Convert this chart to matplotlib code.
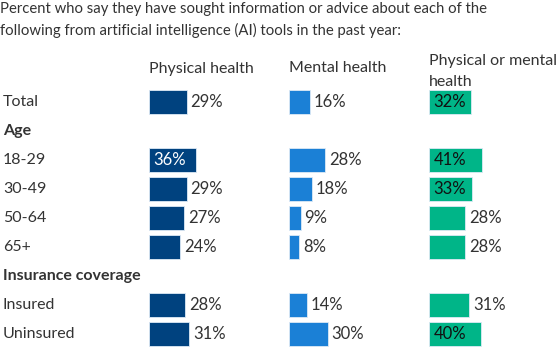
import matplotlib.pyplot as plt
import matplotlib.transforms as mtransforms

plt.rcParams['font.family'] = ['Lato', 'DejaVu Sans']

# rows (None = no bar, header row)
row_labels = ['Total', 'Age', '18-29', '30-49', '50-64', '65+',
              'Insurance coverage', 'Insured', 'Uninsured']
header_rows = ['Age', 'Insurance coverage']

columns = ['Physical health', 'Mental health', 'Physical or mental\nhealth']
physical = [29, None, 36, 29, 27, 24, None, 28, 31]
mental = [16, None, 28, 18, 9, 8, None, 14, 30]
either = [32, None, 41, 33, 28, 28, None, 31, 40]

# which labels sit inside the bar
physical_inside = [False, None, True, False, False, False, None, False, False]
mental_inside = [False] * 9
either_inside = [True, None, True, True, False, False, None, False, True]

colors = ['#00427f', '#1b80d6', '#00b588']
inside_text = ['white', 'white', '#111111']
text_col = '#333333'
fs = 11.5

W, H = 560, 349
fig = plt.figure(figsize=(W / 100, H / 100), dpi=100)

title = ('Percent who say they have sought information or advice about each of the\n'
         'following from artificial intelligence (AI) tools in the past year:')
fig.text(0.5 / W, 1 - 20 / H, title, ha='left', va='center', fontsize=10.7,
         color=text_col, linespacing=1.6)

col_left = [149, 289, 429]
col_width = 130  # pixels for 0..100 %
row_top = 87.5
row_h = 29
n = len(row_labels)

series = [physical, mental, either]
inside = [physical_inside, mental_inside, either_inside]

axes = []
for c in range(3):
    ax = fig.add_axes([col_left[c] / W, 1 - (row_top + n * row_h) / H,
                       col_width / W, n * row_h / H])
    ax.set_xlim(0, 100)
    ax.set_ylim(n - 0.5, -0.5)
    ax.axis('off')
    for i, v in enumerate(series[c]):
        if v is None:
            continue
        ax.barh(i, v, height=0.86, color=colors[c], edgecolor='#dde9f5',
                linewidth=0.6)
        if inside[c][i]:
            ax.text(3.3, i, f'{v}%', ha='left', va='center', fontsize=12,
                    color=inside_text[c])
        else:
            ax.text(v + 2.8, i, f'{v}%', ha='left', va='center', fontsize=12,
                    color=text_col)
    two_line = '\n' in columns[c]
    fig.text(col_left[c] / W, 1 - (71.5 if two_line else 68.5) / H, columns[c],
             ha='left', va='center', fontsize=fs, color=text_col,
             linespacing=1.65)
    axes.append(ax)

trans = mtransforms.blended_transform_factory(fig.transFigure, axes[0].transData)
for i, lab in enumerate(row_labels):
    bold = lab in header_rows
    axes[0].text(3 / W, i, lab, transform=trans, ha='left', va='center',
                 fontsize=fs, color=text_col,
                 fontweight='bold' if bold else 'normal', clip_on=False)

fig.savefig('out.png', dpi=100)
